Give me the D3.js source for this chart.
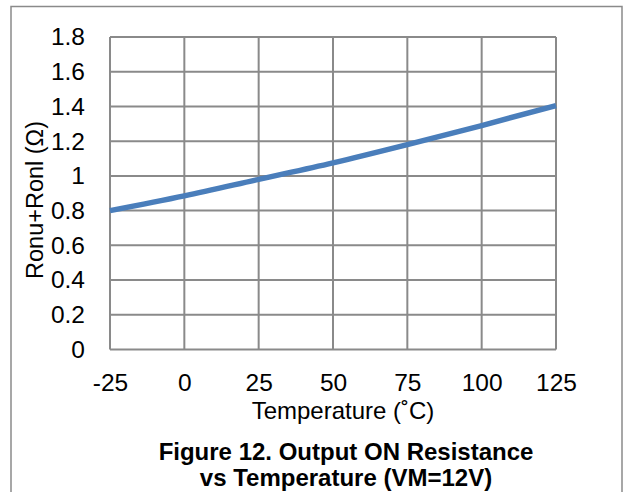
<!DOCTYPE html>
<html>
<head>
<meta charset="utf-8">
<script src="https://cdn.jsdelivr.net/npm/d3@7/dist/d3.min.js"></script>
<style>
  html, body { margin: 0; padding: 0; background: #fff; }
  svg { display: block; }
  text { font-family: "Liberation Sans", Arial, sans-serif; fill: #000; }
</style>
</head>
<body>
<svg id="chart" width="627" height="492"></svg>
<script>
// Data
const temperatures = [-25, 0, 25, 50, 75, 100, 125];
const resistance = [0.80, 0.885, 0.98, 1.075, 1.18, 1.29, 1.405];
const xTicks = [-25, 0, 25, 50, 75, 100, 125];
const yTicks = [0, 0.2, 0.4, 0.6, 0.8, 1, 1.2, 1.4, 1.6, 1.8];
const xTitle = "Temperature (˚C)";
const yTitle = "Ronu+Ronl (Ω)";
const captionLines = ["Figure 12. Output ON Resistance", "vs Temperature (VM=12V)"];

const svg = d3.select("#chart");
const W = 627, H = 492;
const margin = { left: 110, right: 71, top: 37, bottom: 142.5 };
const plotW = W - margin.left - margin.right;   // 446
const plotH = H - margin.top - margin.bottom;   // 312.5

const gridColor = "#8a8a8a";
const fontFam = '"Liberation Sans", Arial, sans-serif';

// Outer frame (bottom edge extends beyond the image)
svg.append("path")
  .attr("d", `M11,${H + 5} L11,6.5 L622,6.5 L622,${H + 5}`)
  .attr("fill", "none")
  .attr("stroke", gridColor)
  .attr("stroke-width", 1.5);

const x = d3.scaleLinear().domain([-25, 125]).range([margin.left, margin.left + plotW]);
const y = d3.scaleLinear().domain([0, 1.8]).range([margin.top + plotH, margin.top]);

const g = svg.append("g");

// Gridlines
g.selectAll("line.hgrid").data(yTicks).enter().append("line")
  .attr("class", "hgrid")
  .attr("x1", margin.left).attr("x2", margin.left + plotW)
  .attr("y1", d => y(d)).attr("y2", d => y(d))
  .attr("stroke", gridColor).attr("stroke-width", 2);

g.selectAll("line.vgrid").data(xTicks).enter().append("line")
  .attr("class", "vgrid")
  .attr("x1", d => x(d)).attr("x2", d => x(d))
  .attr("y1", margin.top).attr("y2", margin.top + plotH)
  .attr("stroke", gridColor).attr("stroke-width", 2);

// Axes (labels only, via d3 axes)
const yAxis = d3.axisLeft(y).tickValues(yTicks).tickSize(0).tickPadding(25)
  .tickFormat(d => String(Math.round(d * 10) / 10));
const yG = svg.append("g").attr("transform", `translate(${margin.left},0)`).call(yAxis);
yG.select(".domain").remove();
yG.selectAll("text").attr("font-size", 24.5).style("font-family", fontFam).attr("fill", "#000");

const xAxis = d3.axisBottom(x).tickValues(xTicks).tickSize(0).tickPadding(24)
  .tickFormat(d => String(d));
const xG = svg.append("g").attr("transform", `translate(0,${margin.top + plotH})`).call(xAxis);
xG.select(".domain").remove();
xG.selectAll("text").attr("font-size", 24.5).style("font-family", fontFam).attr("fill", "#000");

// Data line
const line = d3.line()
  .x((d, i) => x(temperatures[i]))
  .y(d => y(d))
  .curve(d3.curveMonotoneX);

svg.append("path")
  .datum(resistance)
  .attr("d", line)
  .attr("fill", "none")
  .attr("stroke", "#4a7ebb")
  .attr("stroke-width", 5.5)
  .attr("stroke-linecap", "butt");

// Axis titles
svg.append("text")
  .attr("x", 343).attr("y", 419)
  .attr("text-anchor", "middle")
  .attr("font-size", 24)
  .text(xTitle);

svg.append("text")
  .attr("transform", "translate(42.5,200) rotate(-90)")
  .attr("text-anchor", "middle")
  .attr("font-size", 23.5)
  .text(yTitle);

// Caption
svg.selectAll("text.caption").data(captionLines).enter().append("text")
  .attr("class", "caption")
  .attr("x", 346)
  .attr("y", (d, i) => 460 + i * 26)
  .attr("text-anchor", "middle")
  .attr("font-size", 24)
  .attr("font-weight", "bold")
  .text(d => d);
</script>
</body>
</html>
